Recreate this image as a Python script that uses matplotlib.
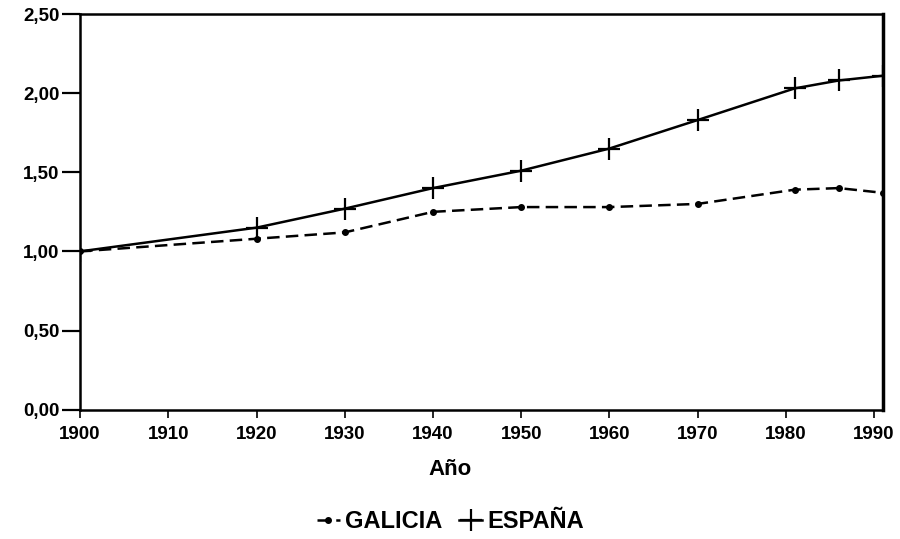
import matplotlib
matplotlib.use("Agg")
import matplotlib.pyplot as plt
from matplotlib.ticker import FuncFormatter

# census years and index values (1900 = 1)
years = [1900, 1920, 1930, 1940, 1950, 1960, 1970, 1981, 1986, 1991]
galicia = [1.00, 1.08, 1.12, 1.25, 1.28, 1.28, 1.30, 1.39, 1.40, 1.37]
espana = [1.00, 1.15, 1.27, 1.40, 1.51, 1.65, 1.83, 2.03, 2.08, 2.11]
xticks = list(range(1900, 1991, 10))
yticks = [0, 0.5, 1.0, 1.5, 2.0, 2.5]

plt.rcParams['font.family'] = ['Liberation Sans', 'DejaVu Sans']
plt.rcParams['font.weight'] = 'bold'

fig = plt.figure(figsize=(9, 5.39), dpi=100)
ax = fig.add_axes([0.089, 0.24, 0.892, 0.734])

ax.plot(years, galicia, color='black', lw=1.8, ls=(0, (5, 2.5)), marker='o', ms=4,
        label='GALICIA')
ax.plot(years, espana, color='black', lw=1.8, marker='+', ms=16, mew=1.6,
        label='ESPAÑA')

ax.set_xlim(1900, 1991)
ax.set_ylim(0, 2.5)
ax.set_xticks(xticks)
ax.set_yticks(yticks)
ax.yaxis.set_major_formatter(FuncFormatter(lambda v, p: f"{v:.2f}".replace('.', ',')))
ax.tick_params(axis='y', direction='out', length=13, width=1.6, labelsize=13.5, pad=2)
ax.tick_params(axis='x', direction='out', length=6, width=1.2, labelsize=13.5, pad=6)
for lab in ax.get_xticklabels() + ax.get_yticklabels():
    lab.set_fontweight('bold')
for s in ax.spines.values():
    s.set_linewidth(1.8)
ax.spines['right'].set_linewidth(2.5)

ax.set_xlabel('Año', fontsize=16, fontweight='bold')
ax.xaxis.set_label_coords(0.461, -0.125)

ax.legend(loc='center', bbox_to_anchor=(0.461, -0.284), ncol=2, frameon=False,
          handlelength=1.0, handletextpad=0.2, columnspacing=0.7, borderpad=0,
          prop={'weight': 'bold', 'size': 17})

fig.savefig('out.png', dpi=100)
